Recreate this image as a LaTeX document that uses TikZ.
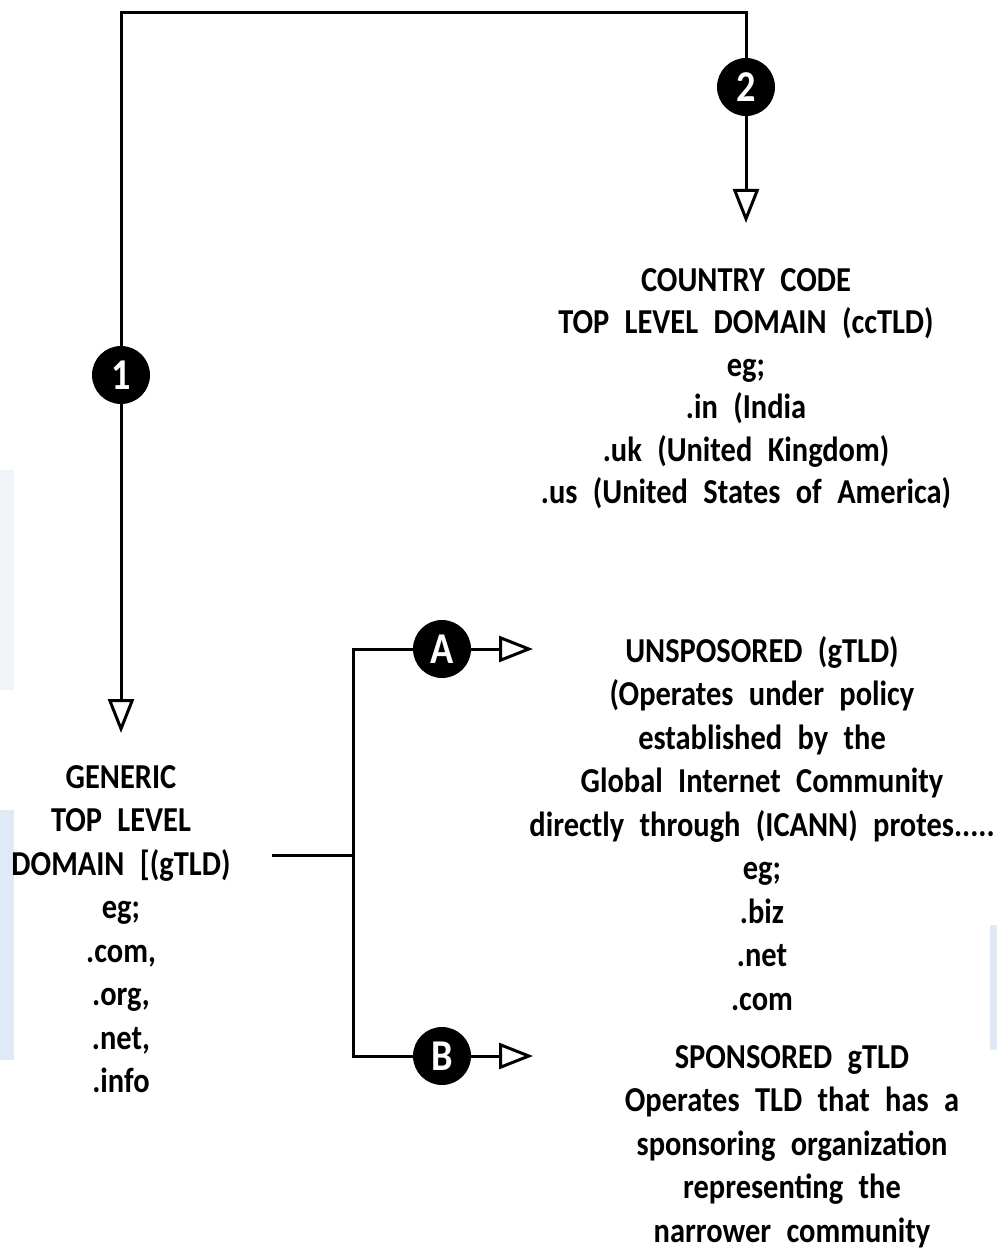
\documentclass[tikz,border=0pt]{standalone}
\usepackage{fontspec}
\setmainfont{Carlito}[FakeStretch=0.87]
\usetikzlibrary{arrows.meta}
\definecolor{wm}{RGB}{224,234,247}
\definecolor{wmgrey}{RGB}{240,243,248}
\newcommand\txtfont[1]{\fontsize{35}{#1}\selectfont\bfseries\spaceskip=0.44em\relax}
\newcommand\firstln{\rule{0pt}{30pt}}
\tikzset{
  conn/.style={line width=3pt, line join=miter},
  arr/.style={conn, -{Triangle[open, length=34pt, width=26pt, line width=3pt]}},
  badge/.style={circle, fill=black, minimum size=58pt, inner sep=0pt, text=white,
                font=\fontsize{44}{44}\selectfont\bfseries},
  txt/.style={align=center, inner sep=0pt, anchor=north, font={\txtfont{43.5}}},
}
\begin{document}
\begin{tikzpicture}[x=1pt,y=-1pt]
\useasboundingbox (0,0) rectangle (997,1252);
\fill[white] (0,0) rectangle (997,1252);
% faint watermark traces at the edges
\fill[wmgrey] (0,470) rectangle (14,690);
\fill[wm] (0,810) rectangle (14,1060);
\fill[wm] (990,925) rectangle (997,1050);

% top tree
\coordinate (tl) at (121,13);
\coordinate (tr) at (746,13);
\coordinate (t1) at (121,733);
\coordinate (t2) at (746,223);
\node[badge] (b1) at (121,375) {1};
\node[badge] (b2) at (746,87) {2};
\draw[conn] (b1) -- (tl) -- (tr) -- (b2);
\draw[arr] (b1) -- (t1);
\draw[arr] (b2) -- (t2);

% branch
\coordinate (jl) at (272,855);
\coordinate (jm) at (353,855);
\coordinate (ja) at (353,649);
\coordinate (jb) at (353,1056);
\coordinate (tA) at (533,649);
\coordinate (tB) at (533,1056);
\node[badge] (bA) at (442,649) {A};
\node[badge] (bB) at (442,1056) {B};
\draw[conn] (jl) -- (jm);
\draw[conn] (bA) -- (ja) -- (jb) -- (bB);
\draw[arr] (bA) -- (tA);
\draw[arr] (bB) -- (tB);

% texts
\node[txt, font={\txtfont{42.5}}] (cc) at (746,261)
  {\firstln COUNTRY CODE\\TOP LEVEL DOMAIN (ccTLD)\\eg;\\.in (India\\.uk (United Kingdom)\\.us (United States of America)};
\node[txt] (gt) at (121,758)
  {\firstln GENERIC\\TOP LEVEL\\DOMAIN [(gTLD)\\eg;\\.com,\\.org,\\.net,\\.info};
\node[txt] (un) at (762,632)
  {\firstln UNSPOSORED (gTLD)\\(Operates under policy\\established by the\\Global Internet Community\\directly through (ICANN) protes.....\\eg;\\.biz\\.net\\.com};
\node[txt] (sp) at (792,1038)
  {\firstln SPONSORED gTLD\\Operates TLD that has a\\sponsoring organization\\representing the\\narrower community};
\end{tikzpicture}
\end{document}
